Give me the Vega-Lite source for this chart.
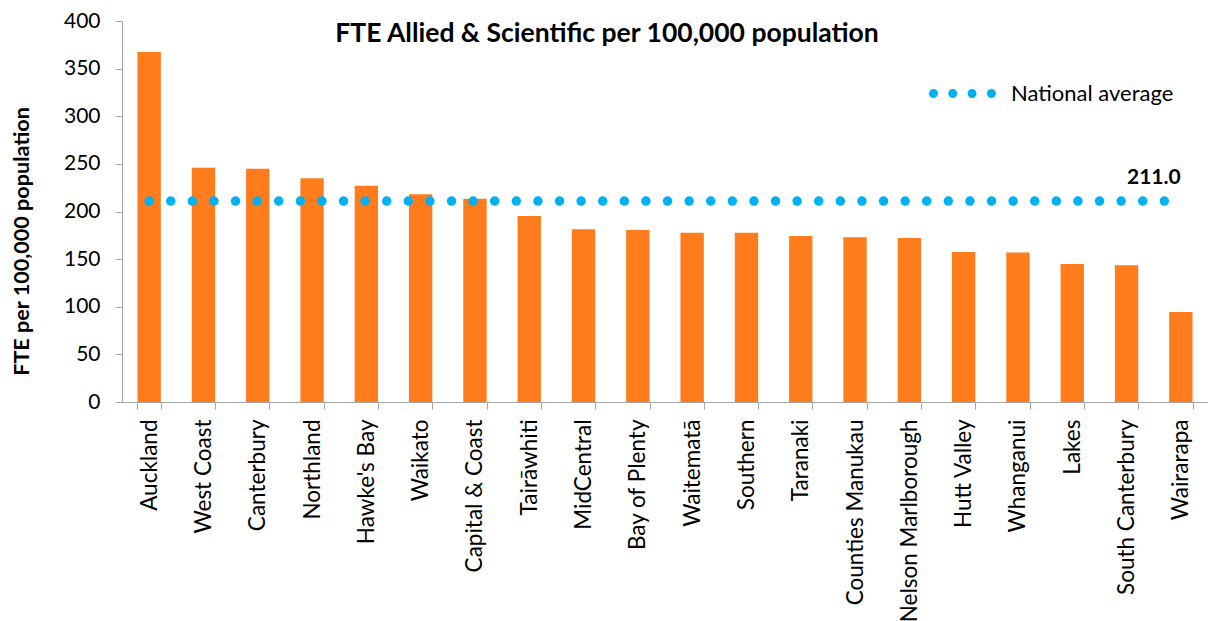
{
  "$schema": "https://vega.github.io/schema/vega-lite/v6.json",
  "autosize": "none",
  "width": 1086,
  "height": 381,
  "padding": {"left": 122, "top": 21, "right": 0, "bottom": 219},
  "background": "white",
  "config": {
    "view": {"stroke": null},
    "font": "Lato",
    "axis": {"grid": false, "domainColor": "#A6A6A6", "tickColor": "#A6A6A6", "labelColor": "#000000", "titleColor": "#000000", "labelFont": "Lato", "titleFont": "Lato"}
  },
  "title": {
    "text": "FTE Allied & Scientific per 100,000 population",
    "font": "Lato",
    "fontSize": 26.5,
    "fontWeight": "bold",
    "color": "#000000",
    "anchor": "middle",
    "baseline": "alphabetic",
    "offset": 0,
    "dx": -58,
    "dy": 58
  },
  "data": {
    "values": [
      {"region": "Auckland", "fte": 367.5, "national_average": 211.0},
      {"region": "West Coast", "fte": 246.0, "national_average": 211.0},
      {"region": "Canterbury", "fte": 245.0, "national_average": 211.0},
      {"region": "Northland", "fte": 235.0, "national_average": 211.0},
      {"region": "Hawke's Bay", "fte": 227.0, "national_average": 211.0},
      {"region": "Waikato", "fte": 218.0, "national_average": 211.0},
      {"region": "Capital & Coast", "fte": 213.5, "national_average": 211.0},
      {"region": "Tairāwhiti", "fte": 195.3, "national_average": 211.0},
      {"region": "MidCentral", "fte": 181.3, "national_average": 211.0},
      {"region": "Bay of Plenty", "fte": 180.6, "national_average": 211.0},
      {"region": "Waitematā", "fte": 177.8, "national_average": 211.0},
      {"region": "Southern", "fte": 177.6, "national_average": 211.0},
      {"region": "Taranaki", "fte": 174.3, "national_average": 211.0},
      {"region": "Counties Manukau", "fte": 172.9, "national_average": 211.0},
      {"region": "Nelson Marlborough", "fte": 172.2, "national_average": 211.0},
      {"region": "Hutt Valley", "fte": 157.5, "national_average": 211.0},
      {"region": "Whanganui", "fte": 156.9, "national_average": 211.0},
      {"region": "Lakes", "fte": 144.9, "national_average": 211.0},
      {"region": "South Canterbury", "fte": 143.5, "national_average": 211.0},
      {"region": "Wairarapa", "fte": 94.5, "national_average": 211.0}
    ]
  },
  "encoding": {
    "x": {
      "field": "region",
      "type": "nominal",
      "sort": null,
      "scale": {"paddingInner": 0.57, "paddingOuter": 0.285},
      "axis": {
        "title": null,
        "labelAngle": -90,
        "labelAlign": "right",
        "labelBaseline": "middle",
        "labelFontSize": 22.5,
        "labelPadding": 10,
        "tickSize": 7,
        "tickBand": "extent",
        "labelLimit": 300
      }
    }
  },
  "layer": [
    {
      "mark": {"type": "bar", "color": "#FF7C1C"},
      "encoding": {
        "y": {
          "field": "fte",
          "type": "quantitative",
          "scale": {"domain": [0, 400], "nice": false},
          "axis": {
            "title": "FTE per 100,000 population",
            "values": [0, 50, 100, 150, 200, 250, 300, 350, 400],
            "labelFontSize": 21,
            "labelPadding": 15,
            "tickSize": 7,
            "titleFontSize": 21.6,
            "titleFontWeight": "bold",
            "titleAngle": -90,
            "titleAlign": "center",
            "titleBaseline": "middle",
            "titleX": -100,
            "titleY": 220
          }
        }
      }
    },
    {
      "mark": {"type": "line", "strokeWidth": 9.5, "strokeCap": "round", "strokeDash": [0, 21.6]},
      "encoding": {
        "y": {"field": "national_average", "type": "quantitative"},
        "color": {
          "datum": "National average",
          "type": "nominal",
          "scale": {"range": ["#00B0F0"]},
          "legend": {
            "title": null,
            "orient": "none",
            "legendX": 808,
            "legendY": 38,
            "symbolType": "M -1.03,0 a 0.13,0.13 0 1,0 0.26,0 a 0.13,0.13 0 1,0 -0.26,0 Z M -0.47,0 a 0.13,0.13 0 1,0 0.26,0 a 0.13,0.13 0 1,0 -0.26,0 Z M 0.09,0 a 0.13,0.13 0 1,0 0.26,0 a 0.13,0.13 0 1,0 -0.26,0 Z M 0.65,0 a 0.13,0.13 0 1,0 0.26,0 a 0.13,0.13 0 1,0 -0.26,0 Z",
            "symbolSize": 4761,
            "symbolFillColor": "#00B0F0",
            "symbolStrokeWidth": 0,
            "labelFont": "Lato",
            "labelFontSize": 22,
            "labelColor": "#000000",
            "labelOffset": 12,
            "labelLimit": 400
          }
        }
      }
    },
    {
      "transform": [{"filter": "datum.region === 'Wairarapa'"}],
      "mark": {"type": "text", "font": "Lato", "fontSize": 21, "fontWeight": "bold", "color": "#000000", "align": "center", "baseline": "alphabetic", "dx": -27, "dy": -17},
      "encoding": {
        "y": {"field": "national_average", "type": "quantitative"},
        "text": {"field": "national_average", "type": "quantitative", "format": ".1f"}
      }
    }
  ]
}
